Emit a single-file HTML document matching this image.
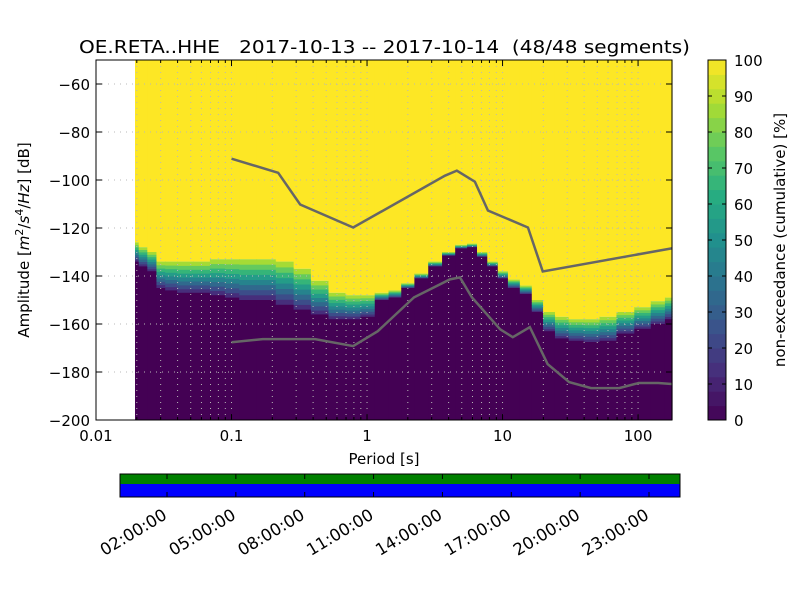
<!DOCTYPE html>
<html><head><meta charset="utf-8"><style>
body{margin:0;background:#fff;font-family:"DejaVu Sans","Liberation Sans",sans-serif}
svg text{font-family:"DejaVu Sans","Liberation Sans",sans-serif;white-space:pre}
</style></head><body>
<svg id="s" width="800" height="600" xmlns="http://www.w3.org/2000/svg"></svg>
<script>
// ---- data ----
const colPeriods=[0.0194,0.022,0.026,0.030,0.035,0.045,0.06,0.08,0.1,0.13,0.18,0.25,0.33,0.45,0.6,0.8,1.0,1.3,1.6,2.0,2.5,3.2,4.0,5.0,6.0,7.0,8.5,10,12,15,18,22,27,35,45,60,80,110,140,178];
const yellowBottomDb=[-126,-128,-130,-134,-134,-134,-134,-133,-133,-133,-133,-134,-137,-142,-147,-148,-148,-147,-146,-143,-139,-134,-130,-127,-126.5,-130,-134,-138,-141.5,-144,-150,-155,-157,-158,-158,-157,-155,-153,-150.5,-149];
const purpleTopDb=[-134,-136,-138,-145,-146,-147,-147,-148,-149,-150,-150,-152,-154,-156,-158,-158,-157,-150,-149,-145,-141,-136,-131.5,-128.5,-128,-132,-136,-141,-145,-147.5,-155,-163,-166,-167,-167.5,-167,-164,-162,-160,-158];
const nhnmPeriods=[0.1,0.221,0.321,0.79,3.76,4.6,6.25,7.8,15.4,19.8,177];
const nhnmDb=[-91.1,-97,-110.2,-119.8,-98.2,-96.1,-100.7,-112.7,-119.8,-138.1,-128.5];
const nlnmPeriods=[0.1,0.17,0.414,0.79,1.2,2.22,4.09,4.85,5.94,9.6,11.9,15.9,21.5,31,45,72.6,101,141,177];
const nlnmDb=[-167.6,-166.3,-166.3,-169.2,-163,-148.9,-141.4,-140.6,-148.9,-162.2,-165.5,-161.3,-176.7,-184.2,-186.7,-186.7,-184.6,-184.6,-185];
const yTicks=[-60,-80,-100,-120,-140,-160,-180,-200];
const xTicks=[0.01,0.1,1,10,100];
const xTickLabels=["0.01","0.1","1","10","100"];
const cbTicks=[0,10,20,30,40,50,60,70,80,90,100];
const timeLabels=["02:00:00","05:00:00","08:00:00","11:00:00","14:00:00","17:00:00","20:00:00","23:00:00"];
const timeHours=[2,5,8,11,14,17,20,23];
// ---- layout ----
const L=96,R=672,T=60,B=420,YMAX=-50,YMIN=-200,XMIN=Math.log10(0.01),XMAX=Math.log10(178);
const X=p=>L+(Math.log10(p)-XMIN)/(XMAX-XMIN)*(R-L);
const Y=d=>T+(YMAX-d)/(YMAX-YMIN)*(B-T);
const vir=[[68,1,84],[71,44,122],[59,81,139],[44,113,142],[33,144,141],[39,173,129],[92,200,99],[170,220,50],[253,231,37]];
function vc(t){t=Math.max(0,Math.min(1,t));const f=t*8,i=Math.min(7,Math.floor(f)),r=f-i,a=vir[i],b=vir[i+1];
return `rgb(${a.map((v,k)=>Math.round(v+(b[k]-v)*r)).join(',')})`;}
const S=document.getElementById('s');const NS="http://www.w3.org/2000/svg";
function el(tag,at,parent){const e=document.createElementNS(NS,tag);for(const k in at)e.setAttribute(k,at[k]);(parent||S).appendChild(e);return e;}
function tx(x,y,s,at,name){const e=el('text',Object.assign({x,y,'font-size':15,fill:'#000'},at));e.textContent=s;

return e;}
// histogram
const hist=el('g',{});


for(let i=0;i<colPeriods.length;i++){
 const x0=i==0?X(colPeriods[0]):X(Math.sqrt(colPeriods[i-1]*colPeriods[i]));
 const x1=i==colPeriods.length-1?R:X(Math.sqrt(colPeriods[i]*colPeriods[i+1]));
 const yb=Y(yellowBottomDb[i]),pt=Y(purpleTopDb[i]);
 const c=el('rect',{x:x0,y:T,width:x1-x0+0.6,height:yb-T,fill:vc(1)},hist);
 
 
 const n=8;
 for(let k=0;k<n;k++){const ya=pt-(pt-yb)*k/n,yb2=pt-(pt-yb)*(k+1)/n;
  const r=el('rect',{x:x0,y:yb2,width:x1-x0+0.6,height:ya-yb2+0.4,fill:vc(0.08+0.84*(k+0.5)/n)},hist);
  
  }
 const p=el('rect',{x:x0,y:pt,width:x1-x0+0.6,height:B-pt,fill:vc(0)},hist);
 
 
}
// grid
const grid=el('g',{stroke:'#b8b8b8','stroke-width':1,'stroke-dasharray':'1,5'});


for(let d=-2;d<=2;d++)for(let m=1;m<=9;m++){const p=m*Math.pow(10,d);if(p<0.0101||p>178)continue;const x=X(p);el('line',{x1:x,y1:T,x2:x,y2:B},grid);}
yTicks.forEach(v=>{el('line',{x1:L,y1:Y(v),x2:R,y2:Y(v)},grid);});
// noise models
function poly(ps,ds,name){const l=el('polyline',{points:ps.map((p,i)=>X(p)+','+Y(ds[i])).join(' '),fill:'none',stroke:'#666','stroke-width':2.5});

}
poly(nhnmPeriods,nhnmDb,'nhnm-line');poly(nlnmPeriods,nlnmDb,'nlnm-line');
// frame & ticks
const fr=el('rect',{x:L,y:T,width:R-L,height:B-T,fill:'none',stroke:'#000','stroke-width':1});


yTicks.forEach(v=>{const y=Y(v);el('line',{x1:L,y1:y,x2:L+6,y2:y,stroke:'#000'});el('line',{x1:R,y1:y,x2:R-6,y2:y,stroke:'#000'});
 tx(L-6,y+6,String(v).replace('-','−'),{'text-anchor':'end'},'y-tick-label');});
xTicks.forEach((p,i)=>{const x=X(p);el('line',{x1:x,y1:B,x2:x,y2:B-6,stroke:'#000'});el('line',{x1:x,y1:T,x2:x,y2:T+6,stroke:'#000'});
 tx(x,B+21,xTickLabels[i],{'text-anchor':'middle'},'x-tick-label');});
for(let d=-2;d<=2;d++)for(let m=2;m<=9;m++){const p=m*Math.pow(10,d);if(p>178)continue;const x=X(p);el('line',{x1:x,y1:B,x2:x,y2:B-3,stroke:'#000'});el('line',{x1:x,y1:T,x2:x,y2:T+3,stroke:'#000'});}
tx(79,53,'OE.RETA..HHE   2017-10-13 -- 2017-10-14  (48/48 segments)',{'font-size':18,textLength:611,lengthAdjust:'spacingAndGlyphs'},'chart-title');
tx(384,464,'Period [s]',{'text-anchor':'middle'},'x-axis-title');
const yl=tx(0,0,'',{'text-anchor':'middle',transform:'translate(29,240) rotate(-90)'},'y-axis-title');
yl.innerHTML='Amplitude [<tspan font-style="italic">m</tspan><tspan font-size="11" dy="-6">2</tspan><tspan dy="6">/</tspan><tspan font-style="italic">s</tspan><tspan font-size="11" dy="-6">4</tspan><tspan dy="6">/</tspan><tspan font-style="italic">Hz</tspan>] [dB]';
// colorbar
const CX=708,CW=18;
const cb=el('g',{});
const nb=25;for(let k=0;k<nb;k++){const y0=B-(B-T)*(k+1)/nb;el('rect',{x:CX,y:y0,width:CW,height:(B-T)/nb+0.5,fill:vc((k+0.5)/nb)},cb);}
el('rect',{x:CX,y:T,width:CW,height:B-T,fill:'none',stroke:'#000'},cb);
cbTicks.forEach(v=>{const y=B-(B-T)*v/100;el('line',{x1:CX+CW,y1:y,x2:CX+CW-4,y2:y,stroke:'#000'});el('line',{x1:CX,y1:y,x2:CX+4,y2:y,stroke:'#000'});tx(734,y+6,String(v),{},'colorbar-tick-label');});
tx(0,0,'non-exceedance (cumulative) [%]',{'text-anchor':'middle',transform:'translate(785,240) rotate(-90)'},'colorbar-title');
// timeline bar
const TL=120,TR=680;
const g1=el('rect',{x:TL,y:474,width:TR-TL,height:10,fill:'#008000'});
const b1=el('rect',{x:TL,y:484,width:TR-TL,height:13,fill:'#0000ff'});
el('rect',{x:TL,y:474,width:TR-TL,height:23,fill:'none',stroke:'#000'});
const HX=h=>167+(h-2)*(649-167)/21;
timeHours.forEach((h,i)=>{const x=HX(h);el('line',{x1:x,y1:474,x2:x,y2:479,stroke:'#000'});el('line',{x1:x,y1:497,x2:x,y2:492,stroke:'#000'});
 tx(0,0,timeLabels[i],{'text-anchor':'end','font-size':16.5,transform:`translate(${x+1},${518}) rotate(-31)`},'time-tick-label');});
</script>
</body></html>
